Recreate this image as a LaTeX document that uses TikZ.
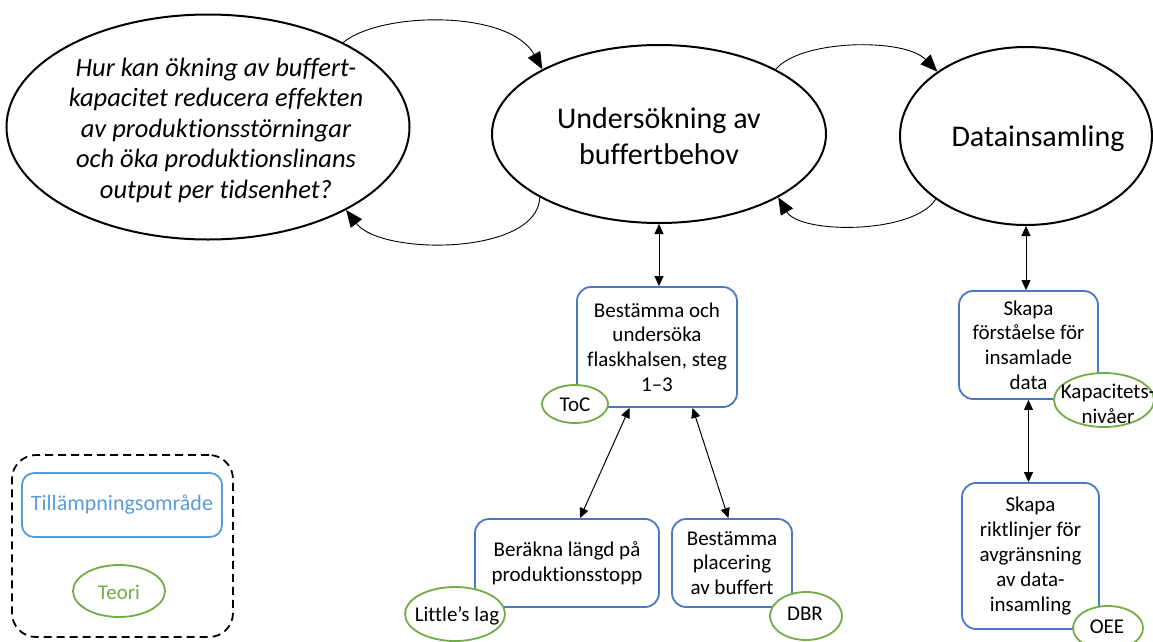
\documentclass[tikz,border=0pt]{standalone}
\usepackage{fontspec}
\setmainfont{Carlito}[Ligatures=NoCommon]
\usetikzlibrary{shapes.geometric,arrows.meta,calc}
\definecolor{boxblue}{HTML}{4A78C6}
\definecolor{legblue}{HTML}{5B9BD5}
\definecolor{theogreen}{HTML}{70AD47}
\begin{document}
\begin{tikzpicture}[x=1pt,y=-1pt,
  bigell/.style={draw, line width=2pt, ellipse, inner sep=0pt},
  bigtext/.style={font=\fontsize{30}{36}\selectfont, align=center, inner sep=0pt},
  qtext/.style={font=\itshape\fontsize{26.5}{30.5}\selectfont, align=center, inner sep=0pt},
  area/.style={draw=boxblue, line width=1.8pt, rounded corners=14pt, fill=white,
    align=center, inner sep=2pt, font=\fontsize{21}{24.8}\selectfont},
  theory/.style={draw=theogreen, line width=1.8pt, ellipse, fill=white, inner sep=0pt},
  theotext/.style={font=\fontsize{21}{24.8}\selectfont, align=center, inner sep=0pt},
  flow/.style={-{Triangle[length=17pt,width=14pt]}, line width=0.9pt},
  dbl/.style={{Triangle[length=10pt,width=9pt]}-{Triangle[length=10pt,width=9pt]}, line width=1pt}
]
\useasboundingbox (0,0) rectangle (1153,641);

% main process ellipses
\node[bigell, minimum width=403pt, minimum height=225pt] (q) at (208,127) {};
\node[qtext] (qt) at (216,130) {Hur kan ökning av buffert-\\kapacitet reducera effekten\\av produktionsstörningar\\och öka produktionslinans\\output per tidsenhet?};
\node[bigell, minimum width=334pt, minimum height=178pt] (m) at (659,134) {};
\node[bigtext] (mt) at (659,136) {Undersökning av\\buffertbehov};
\node[bigell, minimum width=252pt, minimum height=178pt] (r) at (1026,136) {};
\node[bigtext] (rt) at (1038,139) {Datainsamling};

% feedback loops between the ellipses
\draw[flow] (q.32) .. controls +(37,-31) and +(-33,-60) .. (m.151);
\draw[flow] (m.208) .. controls +(-2,58) and +(35,46) .. (q.329);
\draw[flow] (m.29) .. controls +(25,-30) and +(-33,-34) .. (r.144);
\draw[flow] (r.215) .. controls +(-22,35) and +(22,37) .. (m.332);

% application areas
\node[area, minimum width=160pt, minimum height=120pt] (b1) at (657,347)
  {Bestämma och\\undersöka\\flaskhalsen, steg\\1–3};
\node[area, minimum width=184pt, minimum height=88pt] (b2) at (567,563)
  {Beräkna längd på\\produktionsstopp};
\node[area, minimum width=120pt, minimum height=88pt] (b3) at (732,563)
  {Bestämma\\placering\\av buffert};
\node[area, minimum width=139pt, minimum height=108pt] (b4) at (1028.5,345)
  {Skapa\\förståelse för\\insamlade\\data};
\node[area, minimum width=137pt, minimum height=146pt] (b5) at (1030.5,556)
  {Skapa\\riktlinjer för\\avgränsning\\av data-\\insamling};

% links to the application areas
\draw[dbl] (m.south) -- (m.south |- b1.north);
\draw[dbl] ($(b1.south west)!0.33!(b1.south east)$) -- ($(b2.north west)!0.57!(b2.north east)$);
\draw[dbl] ($(b1.south west)!0.72!(b1.south east)$) -- ($(b3.north west)!0.47!(b3.north east)$);
\draw[dbl] (r.south) -- (r.south |- b4.north);
\draw[dbl] (b4.south) -- (b4.south |- b5.north);

% theories
\node[theory, minimum width=66pt, minimum height=38pt] (toc) at (575,404) {};
\node[theotext] (toct) at (575,405) {ToC};
\node[theory, minimum width=100pt, minimum height=54pt] (lit) at (455,614) {};
\node[theotext] (litt) at (457,616) {Little’s lag};
\node[theory, minimum width=72pt, minimum height=48pt] (dbr) at (806,616) {};
\node[theotext] (dbrt) at (805,614) {DBR};
\node[theory, minimum width=100pt, minimum height=54pt] (kap) at (1104,400) {};
\node[theotext] (kapt) at (1108,404) {Kapacitets-\\nivåer};
\node[theory, minimum width=70pt, minimum height=44pt] (oee) at (1108,628) {};
\node[theotext] (oeet) at (1107,627) {OEE};

% legend
\node[draw, dashed, dash pattern=on 8pt off 5pt, line width=1.8pt, rounded corners=24pt,
  minimum width=221pt, minimum height=182pt] (leg) at (122.5,546) {};
\node[draw=legblue, line width=1.8pt, rounded corners=12pt, minimum width=200pt, minimum height=64pt,
  inner sep=1pt, text=legblue, font=\fontsize{22}{26}\selectfont] (lega) at (122,505) {Tillämpningsområde};
\node[theory, minimum width=92pt, minimum height=52pt] (legt) at (119,591) {};
\node[theotext, text=theogreen] (legtt) at (119,592) {Teori};
\end{tikzpicture}
\end{document}
